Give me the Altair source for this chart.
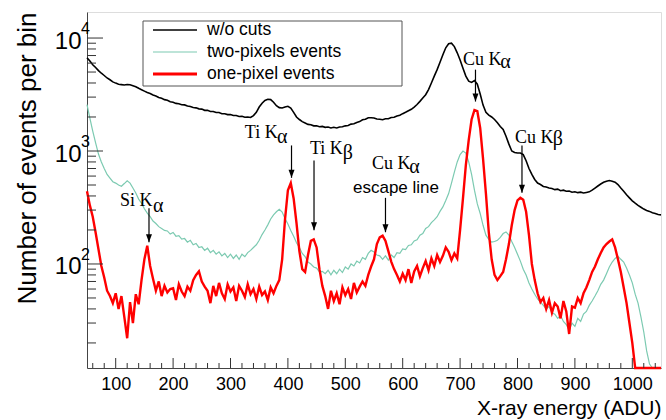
import altair as alt
import pandas as pd

# ---------------- data ----------------
energy = list(range(50, 1051, 5))  # bin positions (ADU)

wo_cuts = [
    6700, 6250, 5800, 5480, 5150, 4880, 4660, 4430, 4270, 4090,
    3990, 3900, 3870, 3840, 3880, 3860, 3790, 3710, 3590, 3490,
    3390, 3290, 3230, 3130, 3070, 2980, 2930, 2850, 2810, 2730,
    2700, 2640, 2620, 2570, 2560, 2500, 2480, 2430, 2410, 2360,
    2350, 2290, 2290, 2240, 2240, 2190, 2190, 2140, 2140, 2100,
    2100, 2060, 2060, 2020, 2030, 1990, 2000, 1980, 2060, 2200,
    2450, 2650, 2800, 2870, 2850, 2700, 2520, 2420, 2400, 2450,
    2490, 2400, 2200, 2000, 1900, 1820, 1770, 1720, 1710, 1670,
    1670, 1640, 1650, 1620, 1630, 1600, 1620, 1600, 1630, 1640,
    1670, 1680, 1730, 1740, 1790, 1820, 1890, 1910, 1970, 1970,
    1960, 1920, 1910, 1890, 1930, 1930, 1980, 1990, 2040, 2070,
    2140, 2200, 2270, 2340, 2450, 2580, 2750, 2950, 3150, 3500,
    4000, 4600, 5250, 6100, 7100, 8200, 8900, 9000, 8400, 7400,
    6400, 5400, 4600, 4150, 4050, 4200, 3900, 3200, 2550, 2200,
    2080, 2000, 1900, 1780, 1650, 1550, 1350, 1150, 1000, 970,
    960, 960, 930, 820, 700, 620, 560, 520, 505, 485,
    480, 470, 465, 455, 460, 445, 450, 440, 442, 432,
    436, 428, 432, 425, 430, 435, 450, 470, 490, 510,
    528, 540, 548, 540, 530, 505, 470, 440, 410, 385,
    362, 345, 330, 318, 306, 298, 292, 284, 280, 274,
    272,
]

two_pixels = [
    2580, 1950, 1500, 1180, 940, 800, 700, 620, 575, 535,
    520, 500, 488, 515, 545, 520, 470, 425, 375, 345,
    308, 282, 262, 240, 228, 214, 206, 198, 196, 184,
    190, 176, 178, 166, 168, 156, 162, 148, 152, 140,
    142, 132, 138, 126, 132, 122, 128, 118, 124, 114,
    122, 112, 120, 110, 122, 116, 126, 132, 140, 148,
    162, 182, 200, 222, 250, 272, 290, 305, 288, 252,
    226, 198, 176, 154, 140, 124, 116, 104, 100, 94,
    92, 85, 86, 82, 88, 80, 88, 82, 90, 84,
    94, 90, 100, 96, 106, 102, 114, 110, 124, 132,
    128, 120, 118, 110, 118, 108, 120, 114, 126, 124,
    136, 134, 146, 148, 160, 164, 180, 186, 206, 214,
    232, 246, 262, 292, 320, 365, 420, 520, 650, 800,
    930, 1000, 960, 800, 620, 450, 340, 280, 220, 180,
    165, 156, 158, 162, 172, 186, 192, 180, 158, 140,
    122, 106, 90, 80, 68, 60, 54, 49, 46, 43,
    40, 42, 37, 36, 33, 35, 31, 29, 26, 30,
    28, 33, 31, 36, 38, 43, 47, 52, 58, 66,
    72, 82, 94, 104, 112, 117, 110, 104, 92, 80,
    68, 54, 45, 34, 25, 17, 13, 0, 0, 0,
    0,
]

one_pixel = [
    440, 330, 262, 190, 135, 96, 76, 58, 52, 45,
    55, 40, 52, 34, 22, 46, 30, 54, 44, 72,
    110, 145, 96, 74, 58, 70, 52, 64, 56, 60,
    61, 48, 66, 57, 52, 63, 58, 72, 80, 86,
    70, 63, 58, 45, 64, 52, 68, 55, 49, 66,
    57, 62, 47, 64, 58, 51, 66, 54, 60, 49,
    63, 53, 57, 48, 62, 55, 64, 72, 110, 250,
    450, 520, 380, 230, 130, 90, 85, 120, 160, 165,
    140, 90, 64, 52, 40, 58, 47, 55, 44, 62,
    53, 60, 49, 68, 56, 63, 70, 64, 80, 95,
    110, 150, 172, 178, 160, 130, 105, 90, 80, 70,
    82, 72, 90, 68, 86, 96, 78, 92, 106, 88,
    112, 96, 120, 104, 118, 140, 128, 108, 124, 112,
    200, 380, 750, 1250, 1900, 2300, 2250, 1600, 850, 420,
    190, 110, 80, 72, 78, 85, 110, 150, 220, 300,
    365, 385, 370, 290, 180, 100, 72, 55, 46, 50,
    40, 48, 37, 45, 42, 33, 47, 38, 24, 42,
    41, 50, 45, 55, 62, 72, 85, 95, 110, 125,
    140, 150, 158, 165, 140, 110, 85, 62, 45, 30,
    20, 0, 0, 0, 0, 0, 0, 0, 0, 0,
    0,
]

series_names = ["w/o cuts", "two-pixels events", "one-pixel events"]
series_colors = ["#000000", "#7ccab1", "#ff0000"]
series_widths = [1.6, 1.2, 2.4]
legend_widths = [1.3, 1.2, 3.0]
series_values = [wo_cuts, two_pixels, one_pixel]

# annotations (data coordinates)
ann_text = ["Si K", "Ti K", "Ti K", "Cu K", "Cu K", "Cu K"]
ann_text_x = [107.5, 325, 438.5, 546.5, 705, 795.6]
ann_text_y = [324, 1310, 933, 698, 5812, 1184]
ann_greek = ["α", "α", "β", "α", "α", "β"]
ann_greek_x = [165, 381, 495.5, 611.5, 770, 861.5]
ann_greek_y = [287, 1167, 843, 641, 5414, 1120]
arrow_x = [158, 406.3, 445.5, 570, 726.8, 807.8]
arrow_top = [311, 1120, 826, 385, 5251, 1120]
arrow_tip = [156, 579, 199, 191, 2741, 427]
sub_text = ["escape line"]
sub_x = [513.4]
sub_y = [428]

x_major = list(range(100, 1001, 100))
x_minor = [v for v in range(60, 1050, 20) if v % 100 != 0]
y_major = [100, 1000, 10000]
y_exp = ["2", "3", "4"]
y_minor = [m * d for d in (10, 100, 1000) for m in range(2, 10)]

X_DOMAIN = [50, 1050]
Y_DOMAIN = [12, 17000]
W, H = 574, 356

xs = alt.Scale(domain=X_DOMAIN, nice=False, zero=False)
ys = alt.Scale(type="log", domain=Y_DOMAIN, nice=False, clamp=True)

AX = alt.Axis(
    values=x_major, format="d", ticks=False, grid=False, labelFontSize=18, labelFont="Liberation Sans",
    labelColor="#000", labelPadding=7, domainColor="#444", domainWidth=1,
    title="X-ray energy (ADU)", titleFont="Liberation Sans", titleFontSize=21,
    titleFontWeight="normal", titleColor="#000", titleAnchor="end", titlePadding=4)
AY = alt.Axis(
    values=y_major, labelExpr="'10'", ticks=False, grid=False, labelFontSize=24,
    labelFont="Liberation Sans", labelColor="#000", labelPadding=6, labelOffset=3,
    domainColor="#444", domainWidth=1,
    title="Number of events per bin", titleFont="Liberation Sans", titleFontSize=26,
    titleFontWeight="normal", titleColor="#000", titleAnchor="end", titlePadding=14)


def X(field):
    return alt.X(field, scale=xs, axis=AX)


def Y(field):
    return alt.Y(field, scale=ys, axis=AY)


# ---------------- spectra ----------------
layers = []
for name, col, sw, vals in zip(series_names, series_colors, series_widths, series_values):
    d = pd.DataFrame({"energy": energy, "count": vals, "series": name})
    layers.append(
        alt.Chart(d).transform_calculate(cplot="max(datum.count, 1)")
        .mark_line(color=col, strokeWidth=sw, interpolate="linear")
        .encode(x=X("energy:Q"), y=Y("cplot:Q"))
    )


# ---------------- ticks inside frame ----------------
def xticks(vals, length):
    return alt.Chart(pd.DataFrame({"energy": vals})).mark_rule(color="#333", strokeWidth=1).encode(
        x=X("energy:Q"), y=alt.value(H), y2=alt.value(H - length))


def yticks(vals, length):
    return alt.Chart(pd.DataFrame({"cplot": vals})).mark_rule(color="#333", strokeWidth=1).encode(
        y=Y("cplot:Q"), x=alt.value(0), x2=alt.value(length))


exp_layer = alt.Chart(pd.DataFrame({"cplot": y_major, "e": y_exp})).mark_text(
    align="left", baseline="middle", fontSize=16, font="Liberation Sans", dx=-6, dy=-9, color="#000"
).encode(y=Y("cplot:Q"), x=alt.value(0), text="e:N")

# ---------------- annotations ----------------
ann_df = pd.DataFrame({"t": ann_text, "energy": ann_text_x, "cplot": ann_text_y})
greek_df = pd.DataFrame({"t": ann_greek, "energy": ann_greek_x, "cplot": ann_greek_y})
arrow_df = pd.DataFrame({"energy": arrow_x, "cplot": arrow_top, "tip": arrow_tip})
tip_df = pd.DataFrame({"energy": arrow_x, "cplot": arrow_tip})
sub_df = pd.DataFrame({"t": sub_text, "energy": sub_x, "cplot": sub_y})

ann_layer = alt.Chart(ann_df).mark_text(
    align="left", baseline="alphabetic", font="Liberation Serif", fontSize=18, color="#000"
).encode(x=X("energy:Q"), y=Y("cplot:Q"), text="t:N")

greek_layer = alt.Chart(greek_df).mark_text(
    align="left", baseline="alphabetic", font="Liberation Serif", fontSize=20, color="#000"
).encode(x=X("energy:Q"), y=Y("cplot:Q"), text="t:N")

sub_layer = alt.Chart(sub_df).mark_text(
    align="left", baseline="alphabetic", font="Liberation Sans", fontSize=17, color="#000"
).encode(x=X("energy:Q"), y=Y("cplot:Q"), text="t:N")

arrow_line = alt.Chart(arrow_df).mark_rule(color="#000", strokeWidth=1.2).encode(
    x=X("energy:Q"), y=Y("cplot:Q"), y2="tip:Q")

arrow_head = alt.Chart(tip_df).mark_point(
    shape="M-0.75,-2L0.75,-2L0,0Z", size=64, filled=True, color="#000", opacity=1, strokeWidth=0
).encode(x=X("energy:Q"), y=Y("cplot:Q"))

# ---------------- legend box ----------------
LX0, LX1, LY0, LY1 = 56, 315, 9, 74
row_y = [18, 40, 62]
legend_layers = [
    alt.Chart(pd.DataFrame({"a": [0]})).mark_rect(fill="white", stroke="#555", strokeWidth=1).encode(
        x=alt.value(LX0), x2=alt.value(LX1), y=alt.value(LY0), y2=alt.value(LY1))
]
for name, col, lw, ry in zip(series_names, series_colors, legend_widths, row_y):
    legend_layers.append(
        alt.Chart(pd.DataFrame({"a": [0]})).mark_rule(color=col, strokeWidth=lw).encode(
            x=alt.value(66), x2=alt.value(110), y=alt.value(ry))
    )
    legend_layers.append(
        alt.Chart(pd.DataFrame({"t": [name]})).mark_text(
            align="left", baseline="middle", font="Liberation Sans", fontSize=17.5, color="#000"
        ).encode(x=alt.value(120), y=alt.value(ry), text="t:N")
    )

chart = alt.layer(
    *layers,
    xticks(x_major, 10), xticks(x_minor, 5),
    yticks(y_major, 16), yticks(y_minor, 9),
    exp_layer,
    arrow_line, arrow_head, ann_layer, greek_layer, sub_layer,
    *legend_layers,
).properties(
    width=W, height=H,
    autosize=alt.AutoSizeParams(type="none"),
    padding={"left": 87, "top": 12, "right": 5, "bottom": 52},
).configure_view(stroke="#888", strokeWidth=1).configure(background="white")

chart.save("out.html", embed_options={"renderer": "svg", "actions": False})
